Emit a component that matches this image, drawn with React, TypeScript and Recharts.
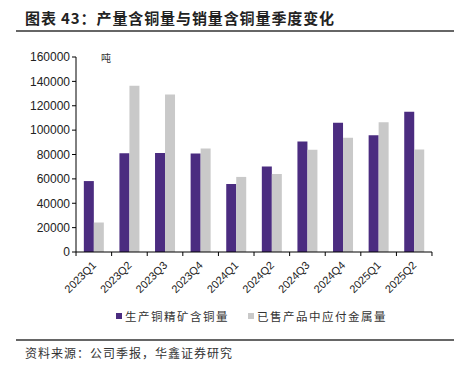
import React from 'react';
import { BarChart, Bar, XAxis, YAxis, Legend } from 'recharts';

const quarters = ['2023Q1', '2023Q2', '2023Q3', '2023Q4', '2024Q1', '2024Q2', '2024Q3', '2024Q4', '2025Q1', '2025Q2'];
const producedCu = [58200, 81000, 81300, 80800, 55800, 70100, 90700, 106000, 95700, 115000];
const soldPayable = [24200, 136500, 129200, 85000, 61600, 64000, 83800, 93700, 106400, 84100];
const yTicks = [0, 20000, 40000, 60000, 80000, 100000, 120000, 140000, 160000];
const seriesNames = ['生产铜精矿含铜量', '已售产品中应付金属量'];

const PURPLE = '#4b2c80';
const GRAY = '#c9c9c9';
const CJK = '"Noto Sans CJK SC", sans-serif';

const data = quarters.map((q, i) => ({ q, a: producedCu[i], b: soldPayable[i] }));

// tick marks sit on category boundaries, labels rotated under the centre
const QuarterTick = (props: any) => {
  const { x, y, payload, index, visibleTicksCount } = props;
  const band = 355.5 / quarters.length;
  const last = index === (visibleTicksCount ?? quarters.length) - 1;
  return (
    <g>
      <line x1={x - band / 2} y1={y - 8} x2={x - band / 2} y2={y - 4} stroke="#000" />
      {last && <line x1={x + band / 2} y1={y - 8} x2={x + band / 2} y2={y - 4} stroke="#000" />}
      <text
        x={x + 3}
        y={y + 6}
        textAnchor="end"
        fontSize={11}
        fill="#222"
        fontFamily="'Liberation Sans', Arial, sans-serif"
        transform={`rotate(-45 ${x + 3} ${y + 6})`}
      >
        {payload.value}
      </text>
    </g>
  );
};

const LegendContent = () => (
  <div style={{ position: 'relative', height: 16, fontFamily: CJK, fontSize: 11.5, color: '#333', letterSpacing: 1.5 }}>
    <span style={{ position: 'absolute', left: 100, top: 3, width: 6, height: 6, background: PURPLE }} />
    <span style={{ position: 'absolute', left: 109, top: -2 }}>{seriesNames[0]}</span>
    <span style={{ position: 'absolute', left: 232, top: 3, width: 6, height: 6, background: GRAY }} />
    <span style={{ position: 'absolute', left: 241, top: -2 }}>{seriesNames[1]}</span>
  </div>
);

export default function App() {
  return (
    <div style={{ position: 'absolute', left: 0, top: 0, width: 454, height: 375, background: '#fff', overflow: 'hidden' }}>
      <div style={{ position: 'absolute', left: 25, top: 7, fontFamily: CJK, fontWeight: 700, fontSize: 15, color: '#222', letterSpacing: 0.9 }}>
        图表 43：产量含铜量与销量含铜量季度变化
      </div>
      <div style={{ position: 'absolute', left: 16, top: 30, width: 438, height: 1.5, background: '#666' }} />
      <div style={{ position: 'absolute', left: 101, top: 50, fontFamily: CJK, fontSize: 10, color: '#333' }}>吨</div>

      <BarChart
        width={454}
        height={330}
        data={data}
        margin={{ top: 57, right: 22, left: 16, bottom: 0 }}
        barCategoryGap="22%"
        barGap={0}
      >
        <XAxis
          dataKey="q"
          stroke="#000"
          tickLine={false}
          height={58}
          interval={0}
          tick={<QuarterTick />}
        />
        <YAxis
          width={60}
          domain={[0, 160000]}
          ticks={yTicks}
          stroke="#000"
          tickSize={4}
          tick={{ fontSize: 12, fill: '#222', fontFamily: "'Liberation Sans', Arial, sans-serif" }}
          interval={0}
        />
        <Legend verticalAlign="bottom" height={20} content={<LegendContent />} />
        <Bar dataKey="a" name={seriesNames[0]} fill={PURPLE} isAnimationActive={false} />
        <Bar dataKey="b" name={seriesNames[1]} fill={GRAY} isAnimationActive={false} />
      </BarChart>

      <div style={{ position: 'absolute', left: 16, top: 339, width: 438, height: 1.5, background: '#666' }} />
      <div style={{ position: 'absolute', left: 25, top: 344, fontFamily: CJK, fontSize: 12, color: '#333', letterSpacing: 1 }}>
        资料来源：公司季报，华鑫证券研究
      </div>
    </div>
  );
}
